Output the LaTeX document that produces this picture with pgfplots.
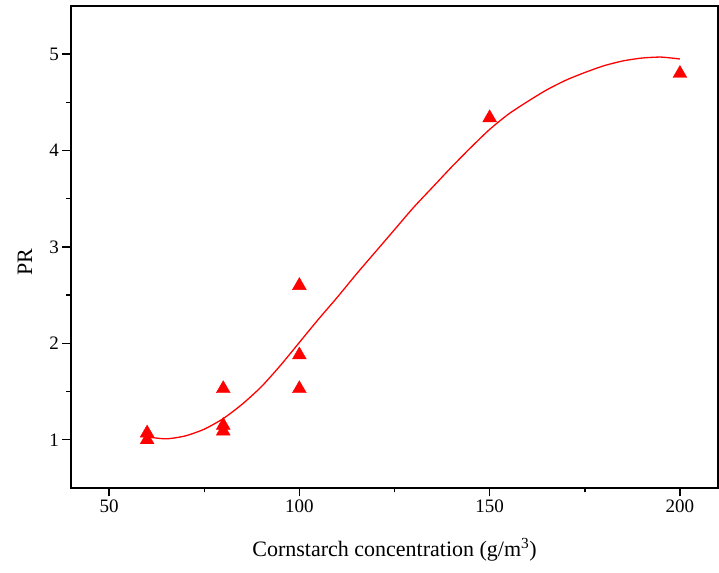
\documentclass[border=0pt]{standalone}
\usepackage{pgfplots}
\pgfplotsset{compat=1.18}
\usepackage{fontspec}
\setmainfont{Liberation Serif}
\begin{document}
\begin{tikzpicture}
\begin{axis}[
  scale only axis, width=647pt, height=482pt,
  xmin=40, xmax=210, ymin=0.5, ymax=5.5,
  xtick={50,100,150,200}, minor xtick={75,125,175},
  ytick={1,2,3,4,5}, minor ytick={1.5,2.5,3.5,4.5},
  tick pos=left, tick align=outside,
  major tick length=8.5pt, minor tick length=4.5pt,
  axis line style={line width=1.4pt},
  every tick/.style={black, line width=1.4pt},
  tick label style={font=\fontsize{19}{22}\selectfont},
  /pgf/number format/assume math mode=true,
  xlabel={Cornstarch concentration (g/m\textsuperscript{3})},
  ylabel={PR},
  every axis x label/.style={at={(axis description cs:0.5,0)}, yshift=-62pt, anchor=center, font=\fontsize{22}{26}\selectfont},
  every axis y label/.style={at={(axis description cs:0,0.469)}, xshift=-46pt, rotate=90, anchor=center, font=\fontsize{22}{26}\selectfont},
  clip=false,
]
\addplot[red, line width=1.3pt, smooth, tension=0.4] coordinates {
(60,1.03) (65,1.01) (70,1.04) (75,1.11) (80,1.22) (85,1.37) (90,1.55)
(95,1.77) (100,2.01) (105,2.25) (110,2.48) (115,2.72) (120,2.95) (125,3.18)
(130,3.41) (135,3.62) (140,3.83) (145,4.03) (150,4.22) (155,4.38) (160,4.51)
(165,4.63) (170,4.73) (175,4.81) (180,4.88) (185,4.93) (190,4.96) (195,4.97) (200,4.95)
};
\addplot[only marks, mark=triangle*, mark size=8pt, red, mark options={fill=red, draw=red}] coordinates {
(60,1.07) (60,1.00) (80,1.53) (80,1.15) (80,1.09) (100,2.60) (100,1.88) (100,1.53) (150,4.34) (200,4.80)
};
\end{axis}
\pgfresetboundingbox
\path ([shift={(-71pt,-84pt)}]current axis.south west) rectangle ([shift={(1pt,6pt)}]current axis.north east);
\end{tikzpicture}
\end{document}
